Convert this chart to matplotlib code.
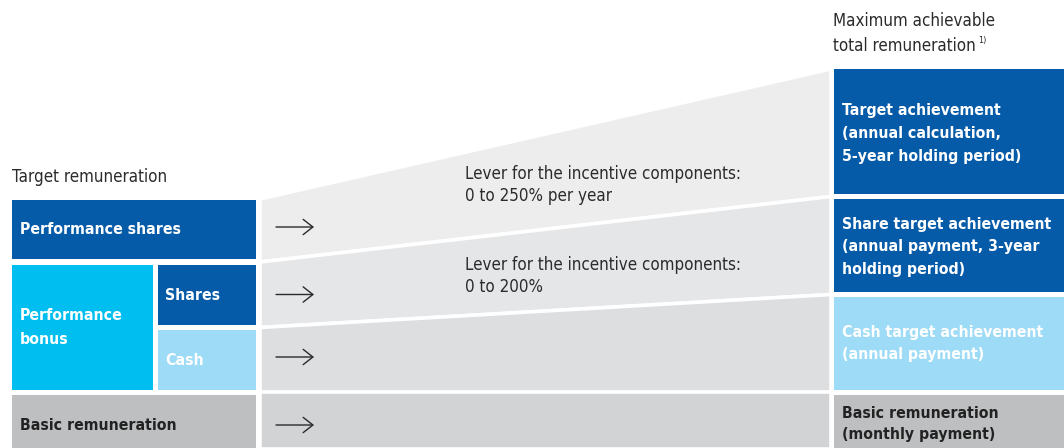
import matplotlib
matplotlib.use("Agg")
import matplotlib.pyplot as plt
from matplotlib.patches import Rectangle, Polygon

# ---------------- data ----------------
left_labels = ["Performance shares", "Performance\nbonus", "Shares", "Cash", "Basic remuneration"]
right_labels = [
    "Target achievement\n(annual calculation,\n5-year holding period)",
    "Share target achievement\n(annual payment, 3-year\nholding period)",
    "Cash target achievement\n(annual payment)",
    "Basic remuneration\n(monthly payment)",
]
lever_labels = [
    "Lever for the incentive components:\n0 to 250% per year",
    "Lever for the incentive components:\n0 to 200%",
]
title_left = "Target remuneration"
title_right = "Maximum achievable\ntotal remuneration"
footnote_mark = "1)"

DARK = "#065BA9"
CYAN = "#00BFF0"
LIGHT = "#9DDBF6"
GREY = "#BEBFC1"
band_colors = ["#EDEDED", "#E5E6E8", "#DDDEE0", "#D2D3D5"]

plt.rcParams["font.family"] = ["DejaVu Sans"]
plt.rcParams["font.stretch"] = "condensed"

W, H = 1064, 448
fig = plt.figure(figsize=(W / 100, H / 100), dpi=100)
ax = fig.add_axes([0, 0, 1, 1])
ax.set_xlim(0, W)
ax.set_ylim(H, 0)
ax.axis("off")

FS = 11.3
FSR = 12.2
WHITE = "white"
DARKTXT = "#222222"
txt = "#2b2b2b"


def rect(x0, y0, x1, y1, c):
    ax.add_patch(Rectangle((x0, y0), x1 - x0, y1 - y0, facecolor=c, edgecolor="none"))


def lines(x, y_first, step, label, **kw):
    arts = []
    for k, line in enumerate(label.split("\n")):
        arts.append(ax.text(x, y_first + k * step, line, va="center", ha="left", **kw))
    return arts


# left boxes
rect(12, 200, 256, 259, DARK)
rect(12, 265, 153, 390, CYAN)
rect(158, 265, 256, 325, DARK)
rect(158, 330, 256, 390, LIGHT)
rect(12, 395, 256, 449, GREY)

# middle bands
xl, xr = 260, 831
lb = [199, 262, 327.5, 392.5, 449]
rb = [69, 196.5, 294.5, 392.5, 449]
for i in range(4):
    ax.add_patch(Polygon([(xl, lb[i]), (xr, rb[i]), (xr, rb[i + 1]), (xl, lb[i + 1])],
                         closed=True, facecolor=band_colors[i], edgecolor="white", lw=2.6))

# right boxes
rect(834, 69, 1065, 194, DARK)
rect(834, 199, 1065, 292, DARK)
rect(834, 297, 1065, 390, LIGHT)
rect(834, 395, 1065, 449, GREY)

# arrows
for y in [227, 294.5, 357, 425]:
    ax.annotate("", xy=(314, y), xytext=(276, y),
                arrowprops=dict(arrowstyle="->,head_length=0.7,head_width=0.55", lw=1.0,
                                color="#2a2a2a", shrinkA=0, shrinkB=0, mutation_scale=10))

# titles
lines(12, 177, 0, title_left, fontsize=FSR, color=txt)
tr = lines(833, 21, 25, title_right, fontsize=FSR, color=txt)
ax.annotate(footnote_mark, xy=(1, 0.82), xycoords=tr[-1], xytext=(1.5, 0),
            textcoords="offset points", fontsize=6.5, color=txt, va="center", ha="left")

# left labels
bold = dict(fontsize=FS, weight="bold")
lines(20, 230, 0, left_labels[0], color=WHITE, **bold)
lines(20, 315.5, 23.5, left_labels[1], color=WHITE, **bold)
lines(165, 295, 0, left_labels[2], color=WHITE, **bold)
lines(165, 360.5, 0, left_labels[3], color=WHITE, **bold)
lines(20, 425.5, 0, left_labels[4], color=DARKTXT, **bold)

# levers
lines(465, 174, 22, lever_labels[0], fontsize=FSR, color=txt)
lines(465, 265, 22, lever_labels[1], fontsize=FSR, color=txt)

# right labels
lines(842, 110, 23, right_labels[0], color=WHITE, **bold)
lines(842, 224, 22.7, right_labels[1], color=WHITE, **bold)
lines(842, 333, 22, right_labels[2], color=WHITE, **bold)
lines(842, 413, 22, right_labels[3], color=DARKTXT, **bold)

fig.savefig("out.png", dpi=100)
